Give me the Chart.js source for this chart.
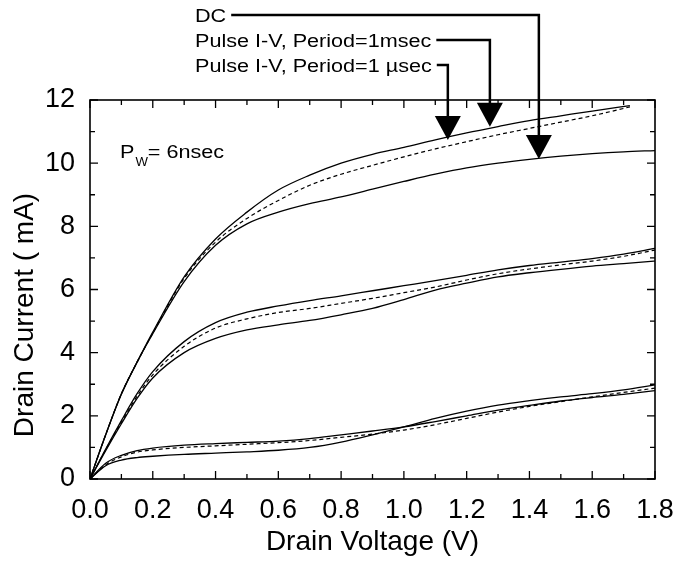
<!DOCTYPE html>
<html>
<head>
<meta charset="utf-8">
<script src="https://cdn.jsdelivr.net/npm/chart.js@4.4.0/dist/chart.umd.min.js"></script>
<style>
  html, body { margin: 0; padding: 0; background: #fff; }
  #wrap { width: 676px; height: 561px; }
</style>
</head>
<body>
<div id="wrap"><canvas id="ivChart" width="676" height="561"></canvas></div>
<script>
// drain voltage grids (V)
const vFull = [0, 0.05, 0.1, 0.15, 0.2, 0.3, 0.4, 0.5, 0.6, 0.7, 0.8, 0.9, 1.0, 1.1, 1.2, 1.3, 1.4, 1.5, 1.6, 1.7, 1.8];
const vShort = [0, 0.05, 0.1, 0.15, 0.2, 0.3, 0.4, 0.5, 0.6, 0.7, 0.8, 0.9, 1.0, 1.1, 1.2, 1.3, 1.4, 1.5, 1.6, 1.72];

// drain current (mA), top gate bias
const topDC   = [0, 1.4, 2.68, 3.7, 4.6, 6.25, 7.4, 8.08, 8.45, 8.72, 8.93, 9.18, 9.42, 9.65, 9.85, 10.0, 10.12, 10.22, 10.3, 10.36, 10.4];
const top1ms  = [0, 1.4, 2.7, 3.7, 4.65, 6.4, 7.6, 8.45, 9.15, 9.62, 10.0, 10.28, 10.5, 10.74, 10.96, 11.16, 11.35, 11.5, 11.65, 11.82];
const top1us  = [0, 1.4, 2.7, 3.7, 4.62, 6.35, 7.5, 8.25, 8.82, 9.3, 9.65, 9.93, 10.2, 10.45, 10.68, 10.9, 11.1, 11.3, 11.5, 11.78];

// middle gate bias
const midDC   = [0, 0.9, 1.75, 2.55, 3.2, 4.0, 4.45, 4.72, 4.88, 5.02, 5.2, 5.4, 5.68, 5.98, 6.2, 6.4, 6.53, 6.64, 6.74, 6.82, 6.9];
const mid1ms  = [0, 0.95, 1.85, 2.7, 3.4, 4.35, 4.95, 5.28, 5.48, 5.65, 5.8, 5.96, 6.12, 6.28, 6.45, 6.62, 6.76, 6.87, 6.98, 7.12, 7.3];
const mid1us  = [0, 0.93, 1.8, 2.62, 3.3, 4.2, 4.78, 5.07, 5.27, 5.4, 5.56, 5.72, 5.9, 6.08, 6.3, 6.5, 6.65, 6.78, 6.9, 7.05, 7.25];

// low gate bias
const botDC   = [0, 0.42, 0.6, 0.68, 0.72, 0.78, 0.82, 0.86, 0.91, 1.0, 1.17, 1.4, 1.65, 1.92, 2.15, 2.34, 2.48, 2.6, 2.7, 2.82, 2.98];
const bot1ms  = [0, 0.5, 0.75, 0.9, 0.98, 1.07, 1.12, 1.16, 1.2, 1.28, 1.4, 1.52, 1.65, 1.82, 2.0, 2.18, 2.33, 2.47, 2.58, 2.68, 2.8];
const bot1us  = [0, 0.45, 0.7, 0.85, 0.92, 1.0, 1.05, 1.1, 1.15, 1.22, 1.32, 1.42, 1.55, 1.72, 1.92, 2.12, 2.3, 2.45, 2.6, 2.74, 2.88];

// axis ticks
const xTicks = [0, 0.2, 0.4, 0.6, 0.8, 1.0, 1.2, 1.4, 1.6, 1.8];
const yTicks = [0, 2, 4, 6, 8, 10, 12];

// arrow labels and where they point (V, mA)
const arrowLabels = ['DC', 'Pulse I-V, Period=1msec', 'Pulse I-V, Period=1 \u00b5sec'];
const arrowV = [1.43, 1.274, 1.14];
const arrowI = [10.13, 11.15, 10.73];

const FONT = "'Liberation Sans', Arial, sans-serif";

function pts(vs, is) {
  return is.map((y, i) => ({ x: vs[i], y: y }));
}

function curve(vs, is, dashed) {
  return {
    data: pts(vs, is),
    showLine: true,
    borderColor: '#000',
    borderWidth: dashed ? 1.2 : 1.3,
    borderDash: dashed ? [4, 3] : [],
    pointRadius: 0,
    cubicInterpolationMode: 'monotone',
    fill: false
  };
}

function stretchText(ctx, text, x, y, sx) {
  ctx.save();
  ctx.translate(x, y);
  ctx.scale(sx, 1);
  ctx.fillText(text, 0, 0);
  ctx.restore();
  return ctx.measureText(text).width * sx;
}

const decor = {
  id: 'decor',
  afterDraw(chart) {
    const ctx = chart.ctx;
    const a = chart.chartArea;
    const xs = chart.scales.x, ys = chart.scales.y;
    ctx.save();
    ctx.strokeStyle = '#000';
    ctx.fillStyle = '#000';

    // frame
    ctx.lineWidth = 1.6;
    ctx.strokeRect(a.left, a.top, a.right - a.left, a.bottom - a.top);

    // inward ticks on all four sides
    ctx.lineWidth = 1.3;
    ctx.beginPath();
    for (let v = 0; v <= 18; v++) {
      const px = xs.getPixelForValue(v / 10);
      const len = v % 2 === 0 ? 8 : 5;
      ctx.moveTo(px, a.bottom); ctx.lineTo(px, a.bottom - len);
      ctx.moveTo(px, a.top); ctx.lineTo(px, a.top + len);
    }
    for (let v = 0; v <= 12; v++) {
      const py = ys.getPixelForValue(v);
      const len = v % 2 === 0 ? 8 : 5;
      ctx.moveTo(a.left, py); ctx.lineTo(a.left + len, py);
      ctx.moveTo(a.right, py); ctx.lineTo(a.right - len, py);
    }
    ctx.stroke();

    // axis titles
    ctx.font = '28px ' + FONT;
    ctx.textAlign = 'center';
    ctx.textBaseline = 'alphabetic';
    ctx.fillText('Drain Voltage (V)', (a.left + a.right) / 2, 550);
    ctx.save();
    ctx.translate(33, 315);
    ctx.rotate(-Math.PI / 2);
    ctx.fillText('Drain Current ( mA)', 0, 0);
    ctx.restore();

    // pulse width note
    ctx.textAlign = 'left';
    ctx.font = '18px ' + FONT;
    let w = stretchText(ctx, 'P', 120, 158, 1.2);
    ctx.font = '12px ' + FONT;
    const w2 = stretchText(ctx, 'W', 120 + w + 1, 166, 1.1);
    ctx.font = '18px ' + FONT;
    stretchText(ctx, '= 6nsec', 120 + w + w2 + 1, 158, 1.2);

    // labelled arrows
    const baseY = [22, 47, 72];
    arrowLabels.forEach((lab, i) => {
      ctx.font = '18px ' + FONT;
      const tw = stretchText(ctx, lab, 195, baseY[i], 1.2);
      const tipX = xs.getPixelForValue(arrowV[i]);
      const tipY = ys.getPixelForValue(arrowI[i]);
      const lineY = baseY[i] - 7;
      const headH = 24, headW = 13;
      ctx.lineWidth = 2.5;
      ctx.beginPath();
      ctx.moveTo(195 + tw + 5, lineY);
      ctx.lineTo(tipX, lineY);
      ctx.lineTo(tipX, tipY - headH + 1);
      ctx.stroke();
      ctx.beginPath();
      ctx.moveTo(tipX - headW, tipY - headH);
      ctx.lineTo(tipX + headW, tipY - headH);
      ctx.lineTo(tipX, tipY);
      ctx.closePath();
      ctx.fill();
    });
    ctx.restore();
  }
};

const ctx = document.getElementById('ivChart');
new Chart(ctx, {
  type: 'scatter',
  data: {
    datasets: [
      curve(vFull, topDC, false),
      curve(vShort, top1ms, false),
      curve(vShort, top1us, true),
      curve(vFull, midDC, false),
      curve(vFull, mid1ms, false),
      curve(vFull, mid1us, true),
      curve(vFull, botDC, false),
      curve(vFull, bot1ms, false),
      curve(vFull, bot1us, true)
    ]
  },
  options: {
    responsive: false,
    animation: false,
    layout: { padding: { top: 100, right: 21, left: 0, bottom: 0 } },
    plugins: { legend: { display: false }, tooltip: { enabled: false } },
    scales: {
      x: {
        type: 'linear',
        min: 0, max: 1.8,
        afterFit(scale) {
          scale.height = 82;
          scale.paddingLeft = 0;
          scale.paddingRight = 0;
        },
        afterBuildTicks(scale) { scale.ticks = xTicks.map(v => ({ value: v })); },
        grid: { display: false },
        border: { display: false },
        ticks: {
          color: '#000', padding: 7,
          font: { family: FONT, size: 27 },
          maxRotation: 0, autoSkip: false,
          callback: v => v.toFixed(1)
        }
      },
      y: {
        type: 'linear',
        min: 0, max: 12,
        afterFit(scale) {
          scale.width = 90;
          scale.paddingTop = 0;
          scale.paddingBottom = 0;
        },
        afterBuildTicks(scale) { scale.ticks = yTicks.map(v => ({ value: v })); },
        grid: { display: false },
        border: { display: false },
        ticks: {
          color: '#000', padding: 7,
          font: { family: FONT, size: 27 },
          autoSkip: false,
          callback: v => String(v)
        }
      }
    }
  },
  plugins: [decor]
});
</script>
</body>
</html>
